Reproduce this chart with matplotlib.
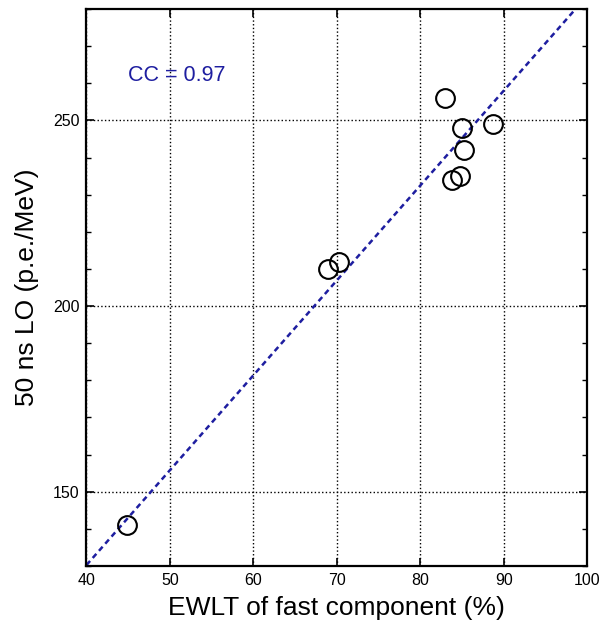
import matplotlib
matplotlib.use("Agg")
import matplotlib.pyplot as plt
from matplotlib.ticker import MultipleLocator

plt.rcParams['font.family'] = ['Liberation Sans', 'DejaVu Sans']

# Data
ewlt_fast = [44.9, 68.9, 70.2, 83.0, 84.95, 88.7, 85.2, 83.8, 84.7]
lo_50ns = [141.0, 210.0, 211.9, 256.0, 248.0, 249.0, 242.0, 234.0, 235.1]
fit_slope = 2.556
fit_intercept = 28.0
fit_x = [40, 100]
cc_text = "CC = 0.97"
x_ticks = [40, 50, 60, 70, 80, 90, 100]
y_ticks = [150, 200, 250]

fig = plt.figure(figsize=(6.13, 6.30), dpi=100)
ax = fig.add_axes([0.141, 0.1016, 0.817, 0.884])

fit_y = [fit_intercept + fit_slope * x for x in fit_x]
ax.plot(fit_x, fit_y, linestyle=(0, (2.2, 1.6)), color='#1e1ea0', lw=1.8, zorder=2)
ax.plot(ewlt_fast, lo_50ns, linestyle='none', marker='o', ms=13.5,
        mfc='none', mec='black', mew=1.5, zorder=3)

ax.text(45.0, 262, cc_text, color='#1e1ea0', fontsize=15.5, va='center', ha='left')

ax.set_xlim(40, 100)
ax.set_ylim(130, 280)
ax.set_xticks(x_ticks)
ax.set_yticks(y_ticks)
ax.yaxis.set_minor_locator(MultipleLocator(10))
ax.grid(True, which='major', linestyle=':', color='black', lw=1.0)
ax.tick_params(which='major', direction='in', length=6, width=1.2,
               labelsize=11.5, top=True, right=True, pad=5)
ax.tick_params(which='minor', direction='in', length=3.5, width=1.0,
               left=True, right=True)
for s in ax.spines.values():
    s.set_linewidth(1.6)

ax.set_xlabel("EWLT of fast component (%)", fontsize=19, labelpad=6)
ax.set_ylabel("50 ns LO (p.e./MeV)", fontsize=19, labelpad=10)

fig.savefig("out.png", dpi=100)
